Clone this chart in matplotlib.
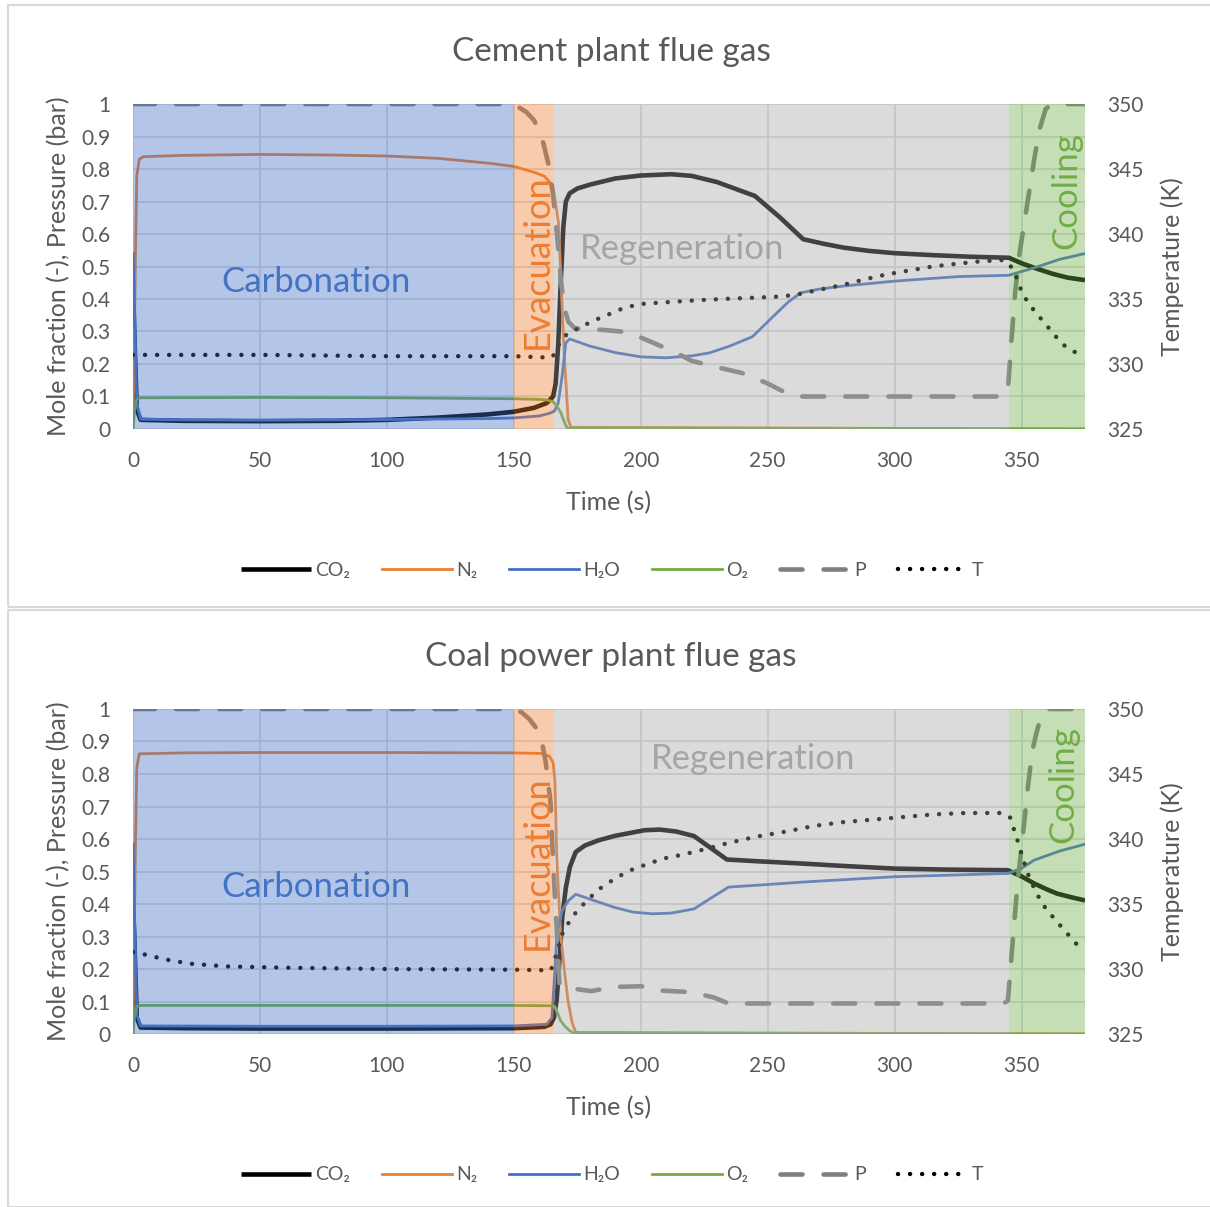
import matplotlib
matplotlib.use("Agg")
import matplotlib.pyplot as plt
from matplotlib.patches import Rectangle

plt.rcParams['font.family'] = ['Lato', 'DejaVu Sans']

# ---------------- cement plant flue gas (top) ----------------
cem_co2_t = [0, 0.5, 1.5, 3, 20, 50, 80, 100, 120, 140, 150, 158, 163, 165.5, 166.5, 167.5,
             168.5, 169.5, 170.5, 172, 175, 180, 190, 200, 212, 220, 230, 245, 255, 264, 272,
             280, 290, 300, 315, 330, 345, 350, 355, 362, 368, 375]
cem_co2 = [0.46, 0.3, 0.06, 0.028, 0.025, 0.024, 0.025, 0.028, 0.035, 0.045, 0.053, 0.065, 0.08,
           0.1, 0.14, 0.26, 0.45, 0.62, 0.70, 0.725, 0.74, 0.752, 0.771, 0.78, 0.784, 0.779, 0.76,
           0.717, 0.65, 0.584, 0.57, 0.558, 0.548, 0.541, 0.535, 0.53, 0.527, 0.51, 0.496, 0.478,
           0.466, 0.458]

cem_n2_t = [0, 0.5, 1, 1.5, 2.5, 4, 20, 50, 80, 100, 120, 140, 150, 158, 162, 165.4, 167.6,
            168.4, 169.9, 171.4, 172.5, 375]
cem_n2 = [0, 0.25, 0.55, 0.78, 0.83, 0.838, 0.842, 0.845, 0.843, 0.84, 0.833, 0.818, 0.808, 0.79,
          0.778, 0.748, 0.635, 0.49, 0.224, 0.03, 0.005, 0]

cem_h2o_t = [0, 0.5, 1.5, 3, 20, 50, 100, 140, 150, 160, 164, 166, 167.5, 169, 170.5, 172, 180,
             190, 200, 210, 220, 227, 235, 244, 252, 258, 263, 270, 280, 300, 325, 345, 355, 365, 375]
cem_h2o = [0.54, 0.4, 0.08, 0.03, 0.028, 0.027, 0.029, 0.032, 0.034, 0.04, 0.048, 0.055, 0.08,
           0.16, 0.265, 0.277, 0.255, 0.235, 0.222, 0.219, 0.225, 0.234, 0.255, 0.284, 0.345,
           0.39, 0.419, 0.43, 0.44, 0.455, 0.469, 0.473, 0.496, 0.522, 0.54]

cem_o2_t = [0, 0.5, 1.5, 3, 50, 100, 150, 160, 163, 165.5, 167, 168.5, 170, 171, 375]
cem_o2 = [0, 0.05, 0.092, 0.096, 0.097, 0.096, 0.093, 0.091, 0.089, 0.084, 0.07, 0.05, 0.02, 0.003, 0]

cem_p_t = [0, 150, 152, 155, 158, 161, 163.5, 165.5, 167, 168.5, 170, 171.5, 174, 185, 195, 205,
           213, 220, 230, 240, 250, 257, 262, 343, 344.6, 346, 347.5, 349, 351, 353, 355, 357,
           359.5, 362, 375]
cem_p = [1, 1, 0.99, 0.975, 0.95, 0.9, 0.82, 0.72, 0.6, 0.46, 0.37, 0.33, 0.31, 0.305, 0.298,
         0.265, 0.238, 0.21, 0.19, 0.172, 0.14, 0.112, 0.1, 0.1, 0.12, 0.27, 0.42, 0.53, 0.63,
         0.73, 0.83, 0.92, 0.985, 1, 1]

cem_t_t = [0, 50, 100, 150, 163, 165, 166.5, 168, 169.5, 171, 173, 177, 181, 186, 192, 199, 206,
           214, 222, 232, 245, 256, 263, 270, 280, 288, 297, 306, 315, 324, 334, 343, 345.5,
           347.5, 349.8, 352, 355, 358, 361, 364, 367, 372]
cem_temp = [330.7, 330.7, 330.6, 330.6, 330.5, 330.5, 330.9, 331.6, 332.0, 332.3, 332.5, 332.9,
            333.3, 333.7, 334.2, 334.6, 334.7, 334.8, 334.9, 335.0, 335.1, 335.2, 335.4, 335.7,
            336.1, 336.5, 336.9, 337.2, 337.5, 337.7, 337.9, 338.0, 337.6, 336.9, 335.7, 334.9,
            334.1, 333.4, 332.7, 332.0, 331.4, 330.8]

# ---------------- coal power plant flue gas (bottom) ----------------
coal_co2_t = [0, 0.5, 1.5, 3, 20, 50, 100, 150, 162, 164.5, 165.8, 166.9, 168, 169.1, 170.5,
              172.1, 174.4, 178, 183.4, 190, 201.5, 207.5, 214, 221, 228, 233.9, 245, 264.8,
              280, 300, 320, 344.6, 350, 355, 360, 364, 370, 375]
coal_co2 = [0.41, 0.3, 0.05, 0.02, 0.018, 0.017, 0.017, 0.018, 0.022, 0.03, 0.05, 0.105, 0.23,
            0.36, 0.45, 0.514, 0.56, 0.58, 0.596, 0.61, 0.627, 0.629, 0.623, 0.609, 0.57, 0.537,
            0.532, 0.524, 0.517, 0.509, 0.506, 0.504, 0.485, 0.463, 0.445, 0.432, 0.42, 0.411]

coal_n2_t = [0, 0.5, 1, 1.5, 2.5, 20, 50, 100, 150, 161, 164, 165.5, 166.2, 166.9, 168.4, 170,
             171.4, 173, 174.4, 375]
coal_n2 = [0, 0.3, 0.6, 0.82, 0.862, 0.865, 0.866, 0.866, 0.865, 0.863, 0.855, 0.835, 0.78, 0.55,
           0.31, 0.19, 0.1, 0.035, 0.005, 0]

coal_h2o_t = [0, 0.5, 1.5, 3, 50, 100, 150, 163, 165, 166, 167, 169, 171.5, 174.4, 180, 189.5,
              197, 204.5, 212, 221, 228, 234.6, 250, 264.8, 300, 344.6, 350, 355, 365, 375]
coal_h2o = [0.585, 0.4, 0.06, 0.025, 0.024, 0.024, 0.025, 0.03, 0.05, 0.17, 0.31, 0.38, 0.41,
            0.43, 0.415, 0.39, 0.375, 0.37, 0.372, 0.385, 0.42, 0.452, 0.46, 0.468, 0.484, 0.494,
            0.51, 0.535, 0.563, 0.584]

coal_o2_t = [0, 0.5, 1.5, 3, 50, 100, 150, 164, 166.1, 167.2, 168.4, 170, 172, 173.6, 375]
coal_o2 = [0, 0.05, 0.085, 0.088, 0.088, 0.088, 0.088, 0.087, 0.085, 0.065, 0.042, 0.025, 0.01,
           0.003, 0]

coal_p_t = [0, 150, 153, 156, 160.4, 162.5, 164.4, 165.6, 167, 168, 170, 175, 180.4, 189.5, 195,
            200, 204, 207.5, 219.6, 228.6, 234.6, 343, 344.6, 346.8, 348.5, 350.6, 352.5, 354.3,
            356, 358, 361, 375]
coal_p = [1, 1, 0.99, 0.97, 0.926, 0.84, 0.72, 0.515, 0.31, 0.15, 0.142, 0.138, 0.132, 0.145,
          0.146, 0.147, 0.143, 0.134, 0.129, 0.113, 0.094, 0.094, 0.103, 0.31, 0.47, 0.617, 0.76,
          0.874, 0.93, 0.986, 1, 1]

coal_t_t = [0, 5, 9.3, 15, 23.1, 37, 60.6, 100, 150, 164.6, 166.9, 169.1, 172.9, 178.9, 184,
            190.2, 196, 203, 209, 216.6, 225, 234.6, 246, 258, 268, 279.8, 292, 303.9, 316, 328,
            341.6, 345.4, 348.4, 352.1, 355, 358.2, 361.5, 365, 369.5, 374]
coal_temp = [331.3, 331.1, 330.9, 330.65, 330.4, 330.2, 330.1, 330.0, 329.95, 329.9, 331.2, 332.7,
             334.0, 335.3, 336.2, 337.0, 337.6, 338.1, 338.5, 338.8, 339.2, 339.7, 340.2, 340.6,
             341.0, 341.3, 341.5, 341.7, 341.9, 342.0, 342.0, 341.7, 339.9, 337.5, 336.2, 335.0,
             334.2, 333.4, 332.4, 331.4]

# phases (start, end, colour)
phases = [(0, 150, '#4472C4'), (150, 166, '#ED7D31'), (166, 345, '#A5A5A5'), (345, 375, '#70AD47')]
phase_names = ['Carbonation', 'Evacuation', 'Regeneration', 'Cooling']
phase_rot = [0, 90, 0, 90]
phase_fs = [25, 26, 25, 25]
# label positions (time, fraction) for each panel
cem_lab_pos = [(72, 0.452), (159.1, 0.514), (216.2, 0.554), (367.5, 0.735)]
coal_lab_pos = [(72, 0.452), (159.1, 0.526), (244.2, 0.846), (366.3, 0.766)]

GREY = '#595959'


def drawPanel(ax, d, lab_pos):
    ax.set_xlim(0, 375)
    ax.set_ylim(0, 1)
    ax.set_xticks(range(0, 351, 50))
    ax.set_yticks([i / 10 for i in range(11)])
    ax.set_yticklabels(['0'] + ['%.1f' % (i / 10) for i in range(1, 10)] + ['1'])
    ax.grid(True, color='#d9d9d9', lw=1.2)
    ax.set_axisbelow(True)
    for s in ax.spines.values():
        s.set_visible(False)
    ax.tick_params(length=0, labelsize=15, labelcolor=GREY, pad=16)

    l1, = ax.plot(d[0], d[1], color='black', lw=3.3, label='CO\u2082', solid_capstyle='butt')
    l2, = ax.plot(d[2], d[3], color='#ED7D31', lw=2, label='N\u2082')
    l3, = ax.plot(d[4], d[5], color='#4472C4', lw=2, label='H\u2082O')
    l4, = ax.plot(d[6], d[7], color='#70AD47', lw=2, label='O\u2082')
    l5, = ax.plot(d[8], d[9], color='#7F7F7F', lw=3.3, ls=(0, (4.8, 4.6)),
                  dash_capstyle='round', label='P')

    ax2 = ax.twinx()
    ax2.set_ylim(325, 350)
    ax2.set_yticks(range(325, 351, 5))
    for s in ax2.spines.values():
        s.set_visible(False)
    ax2.tick_params(length=0, labelsize=15, labelcolor=GREY, pad=16)
    l6, = ax2.plot(d[10], d[11], color='black', lw=3.2, ls=(0, (0.01, 2.7)),
                   dash_capstyle='round', label='T', zorder=2)

    # shaded phases go above the curves, like the original
    for (a, b, c) in phases:
        ax2.axvspan(a, b, color=c, alpha=0.4, lw=0, zorder=3)
    for name, rot, fs, (a, b, c), (x, y) in zip(phase_names, phase_rot, phase_fs, phases, lab_pos):
        ax2.text(x, y, name, transform=ax.transData, color=c, fontsize=fs, rotation=rot,
                 ha='center', va='center', zorder=5)

    ax.set_xlabel('Time (s)', fontsize=18, color=GREY)
    ax.xaxis.set_label_coords(0.5, -0.19)
    ax.set_ylabel('Mole fraction (-), Pressure (bar)', fontsize=18, color=GREY)
    ax.yaxis.set_label_coords(-0.066, 0.5)
    ax2.set_ylabel('Temperature (K)', fontsize=18, color=GREY)
    ax2.yaxis.set_label_coords(1.079, 0.5)
    return [l1, l2, l3, l4, l5, l6]


fig = plt.figure(figsize=(12.1, 12.07), dpi=100)

# chart frames
fig.patches.append(Rectangle((8 / 1210, 1 - 607 / 1207), 1.0, 602 / 1207, transform=fig.transFigure,
                             fill=False, ec='#d9d9d9', lw=1.5))
fig.patches.append(Rectangle((8 / 1210, 1 - 1207 / 1207), 1.0, 597 / 1207, transform=fig.transFigure,
                             fill=False, ec='#d9d9d9', lw=1.5))

ax_top = fig.add_axes([0.1099, 0.6446, 0.7868, 0.2692])
ax_bot = fig.add_axes([0.1099, 0.1433, 0.7868, 0.2693])

cem = [cem_co2_t, cem_co2, cem_n2_t, cem_n2, cem_h2o_t, cem_h2o, cem_o2_t, cem_o2,
       cem_p_t, cem_p, cem_t_t, cem_temp]
coal = [coal_co2_t, coal_co2, coal_n2_t, coal_n2, coal_h2o_t, coal_h2o, coal_o2_t, coal_o2,
        coal_p_t, coal_p, coal_t_t, coal_temp]

h_top = drawPanel(ax_top, cem, cem_lab_pos)
h_bot = drawPanel(ax_bot, coal, coal_lab_pos)

fig.text(0.505, 1 - 52 / 1207, 'Cement plant flue gas', ha='center', va='center',
         fontsize=24, color=GREY)
fig.text(0.505, 1 - 657 / 1207, 'Coal power plant flue gas', ha='center', va='center',
         fontsize=24, color=GREY)

for hs, yc in [(h_top, 570), (h_bot, 1175)]:
    fig.legend(handles=hs, loc='center', bbox_to_anchor=(0.506, 1 - yc / 1207), ncol=6,
               frameon=False, fontsize=14, handlelength=3.6, handletextpad=0.2,
               columnspacing=1.65, labelcolor=GREY)

fig.savefig('out.png', dpi=100)
